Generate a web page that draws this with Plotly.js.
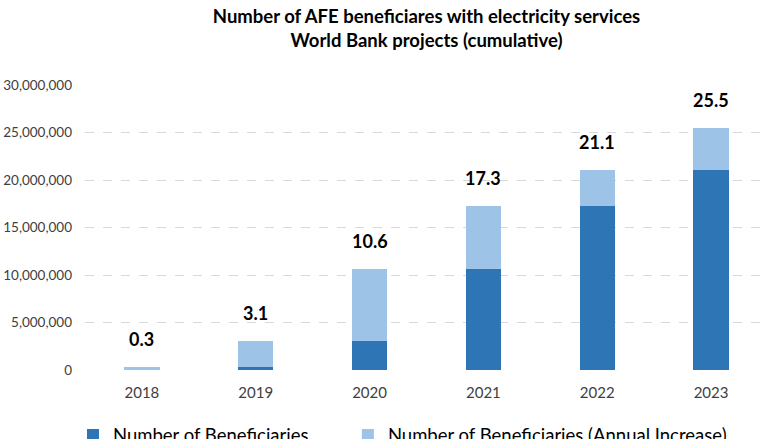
<!DOCTYPE html>
<html>
<head>
<meta charset="utf-8">
<script src="https://cdn.plot.ly/plotly-3.0.1.min.js"></script>
<style>html,body{margin:0;padding:0;background:#fff;} #chart{width:780px;height:439px;}</style>
</head>
<body>
<div id="chart"></div>
<script>
const years = ['2018', '2019', '2020', '2021', '2022', '2023'];
const beneficiaries = [0, 300000, 3100000, 10600000, 17300000, 21100000];
const annualIncrease = [300000, 2800000, 7500000, 6700000, 3800000, 4400000];
const totalLabels = ['0.3', '3.1', '10.6', '17.3', '21.1', '25.5'];
const yTicks = [0, 5000000, 10000000, 15000000, 20000000, 25000000, 30000000];

const totals = beneficiaries.map((v, i) => v + annualIncrease[i]);
const FONT = 'Lato, "Open Sans", sans-serif';

const traces = [
  {
    type: 'bar', name: 'Number of Beneficiaries', x: years, y: beneficiaries,
    marker: {color: '#2E75B6'}, hoverinfo: 'skip', legend: 'legend'
  },
  {
    type: 'bar', name: 'Number of Beneficiaries (Annual Increase)', x: years, y: annualIncrease,
    marker: {color: '#9DC3E6'}, hoverinfo: 'skip', legend: 'legend2'
  }
];

// annotation x given as category index
const annotations = years.map((yr, i) => ({
  x: i, y: totals[i], xref: 'x', yref: 'y', text: totalLabels[i],
  showarrow: false, yanchor: 'bottom', yshift: 15,
  font: {family: FONT, size: 18, color: '#000', weight: 'bold'}
}));

const legendBase = {
  orientation: 'h', xref: 'container', yref: 'container',
  xanchor: 'left', y: 0.008, yanchor: 'middle',
  font: {family: FONT, size: 18.5, color: '#000'}
};

const layout = {
  width: 780, height: 439,
  margin: {l: 85, r: 12, t: 85, b: 69, autoexpand: false},
  paper_bgcolor: '#fff', plot_bgcolor: '#fff',
  barmode: 'stack', bargap: 0.69,
  title: {
    text: '<b>Number of AFE beneficiares with electricity services<br>World Bank projects (cumulative)</b>',
    x: 0.5, xref: 'paper', y: 0.948, yref: 'container', yanchor: 'middle',
    font: {family: FONT, size: 18.5, color: '#000'}
  },
  font: {family: FONT, color: '#404040'},
  xaxis: {
    type: 'category', range: [-0.5, years.length - 0.5], autorange: false,
    showgrid: false, zeroline: false, showline: false,
    ticks: '', ticklabelstandoff: 12,
    tickfont: {family: FONT, size: 15, color: '#404040'}
  },
  yaxis: {
    range: [0, 30000000], tickvals: yTicks,
    ticktext: yTicks.map(v => v.toLocaleString('en-US')),
    showgrid: true, gridcolor: '#d9d9d9', griddash: 'dash', gridwidth: 1,
    zeroline: false, showline: false, ticks: '', ticklabelstandoff: 12,
    tickfont: {family: FONT, size: 13.5, color: '#404040'}
  },
  showlegend: true,
  legend: Object.assign({}, legendBase, {x: 0.0936}),
  legend2: Object.assign({}, legendBase, {x: 0.446}),
  annotations: annotations
};

Plotly.newPlot('chart', traces, layout, {staticPlot: true, displayModeBar: false});
</script>
</body>
</html>
